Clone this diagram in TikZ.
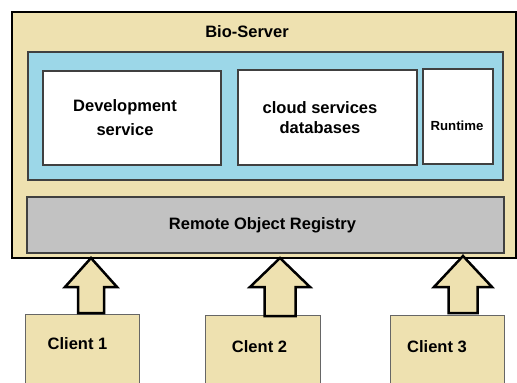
\documentclass[tikz,border=0pt]{standalone}
\usepackage{fontspec}
\setmainfont{Liberation Sans}
\definecolor{sand}{HTML}{EEE1B0}
\definecolor{sky}{HTML}{9CD7E8}
\definecolor{silver}{HTML}{C2C2C2}

\begin{document}
\begin{tikzpicture}[x=1pt,y=-1pt,
    box/.style={draw=black!75,line width=1.2pt,anchor=north west,inner sep=0,outer sep=0},
    txt/.style={font=\fontsize{16.5}{24}\selectfont\bfseries,align=center,inner sep=0,anchor=base},
    uparrow/.style={draw=black,line width=2.5pt,fill=sand,line join=miter}]
        \useasboundingbox (0,0) rectangle (517,383);
        % server and its parts
        \node[box,draw=black,fill=sand,minimum width=504pt,minimum height=246pt] (server) at (12,12) {};
        \node[box,fill=sky,minimum width=475pt,minimum height=128pt] (core) at (28,52) {};
        \node[box,fill=white,minimum width=178pt,minimum height=94pt] (dev) at (43,71) {};
        \node[box,fill=white,minimum width=179pt,minimum height=95pt] (cloud) at (238,70) {};
        \node[box,fill=white,minimum width=70pt,minimum height=95pt] (run) at (423,69) {};
        \node[box,fill=silver,minimum width=477pt,minimum height=56pt] (reg) at (27,197) {};
        \node[txt] (servertxt) at (247,37) {Bio-Server};
        \node[txt,anchor=north] (devtxt) at (125,99) {Development\\service};
        \node[txt,anchor=north,font=\fontsize{16.5}{20}\selectfont\bfseries] (cloudtxt) at (320,101) {cloud services\\databases};
        \node[txt,font=\fontsize{13.2}{15}\selectfont\bfseries] (runtxt) at (457,130) {Runtime};
        \node[txt] (regtxt) at (262.5,229) {Remote Object Registry};
        % clients
        \node[box,draw=black!60,line width=1pt,fill=sand,minimum width=114pt,minimum height=80pt] (c1) at (25,314) {};
        \node[box,draw=black!60,line width=1pt,fill=sand,minimum width=115pt,minimum height=80pt] (c2) at (205,315) {};
        \node[box,draw=black!60,line width=1pt,fill=sand,minimum width=114pt,minimum height=80pt] (c3) at (390,315) {};
        \node[txt] (c1txt) at (77.5,349) {Client 1};
        \node[txt] (c2txt) at (259.5,352) {Clent 2};
        \node[txt] (c3txt) at (437,352) {Client 3};
        % arrows up to the registry
        \foreach \x/\y/\h/\s/\b in {91/258/26/13/313, 280/258/30/15.5/316, 463/256/29/14.5/313}
          \draw[uparrow] (\x,\y) -- (\x+\h,287) -- (\x+\s,287) -- (\x+\s,\b) -- (\x-\s,\b) -- (\x-\s,287) -- (\x-\h,287) -- cycle;
      \end{tikzpicture}
\end{document}
